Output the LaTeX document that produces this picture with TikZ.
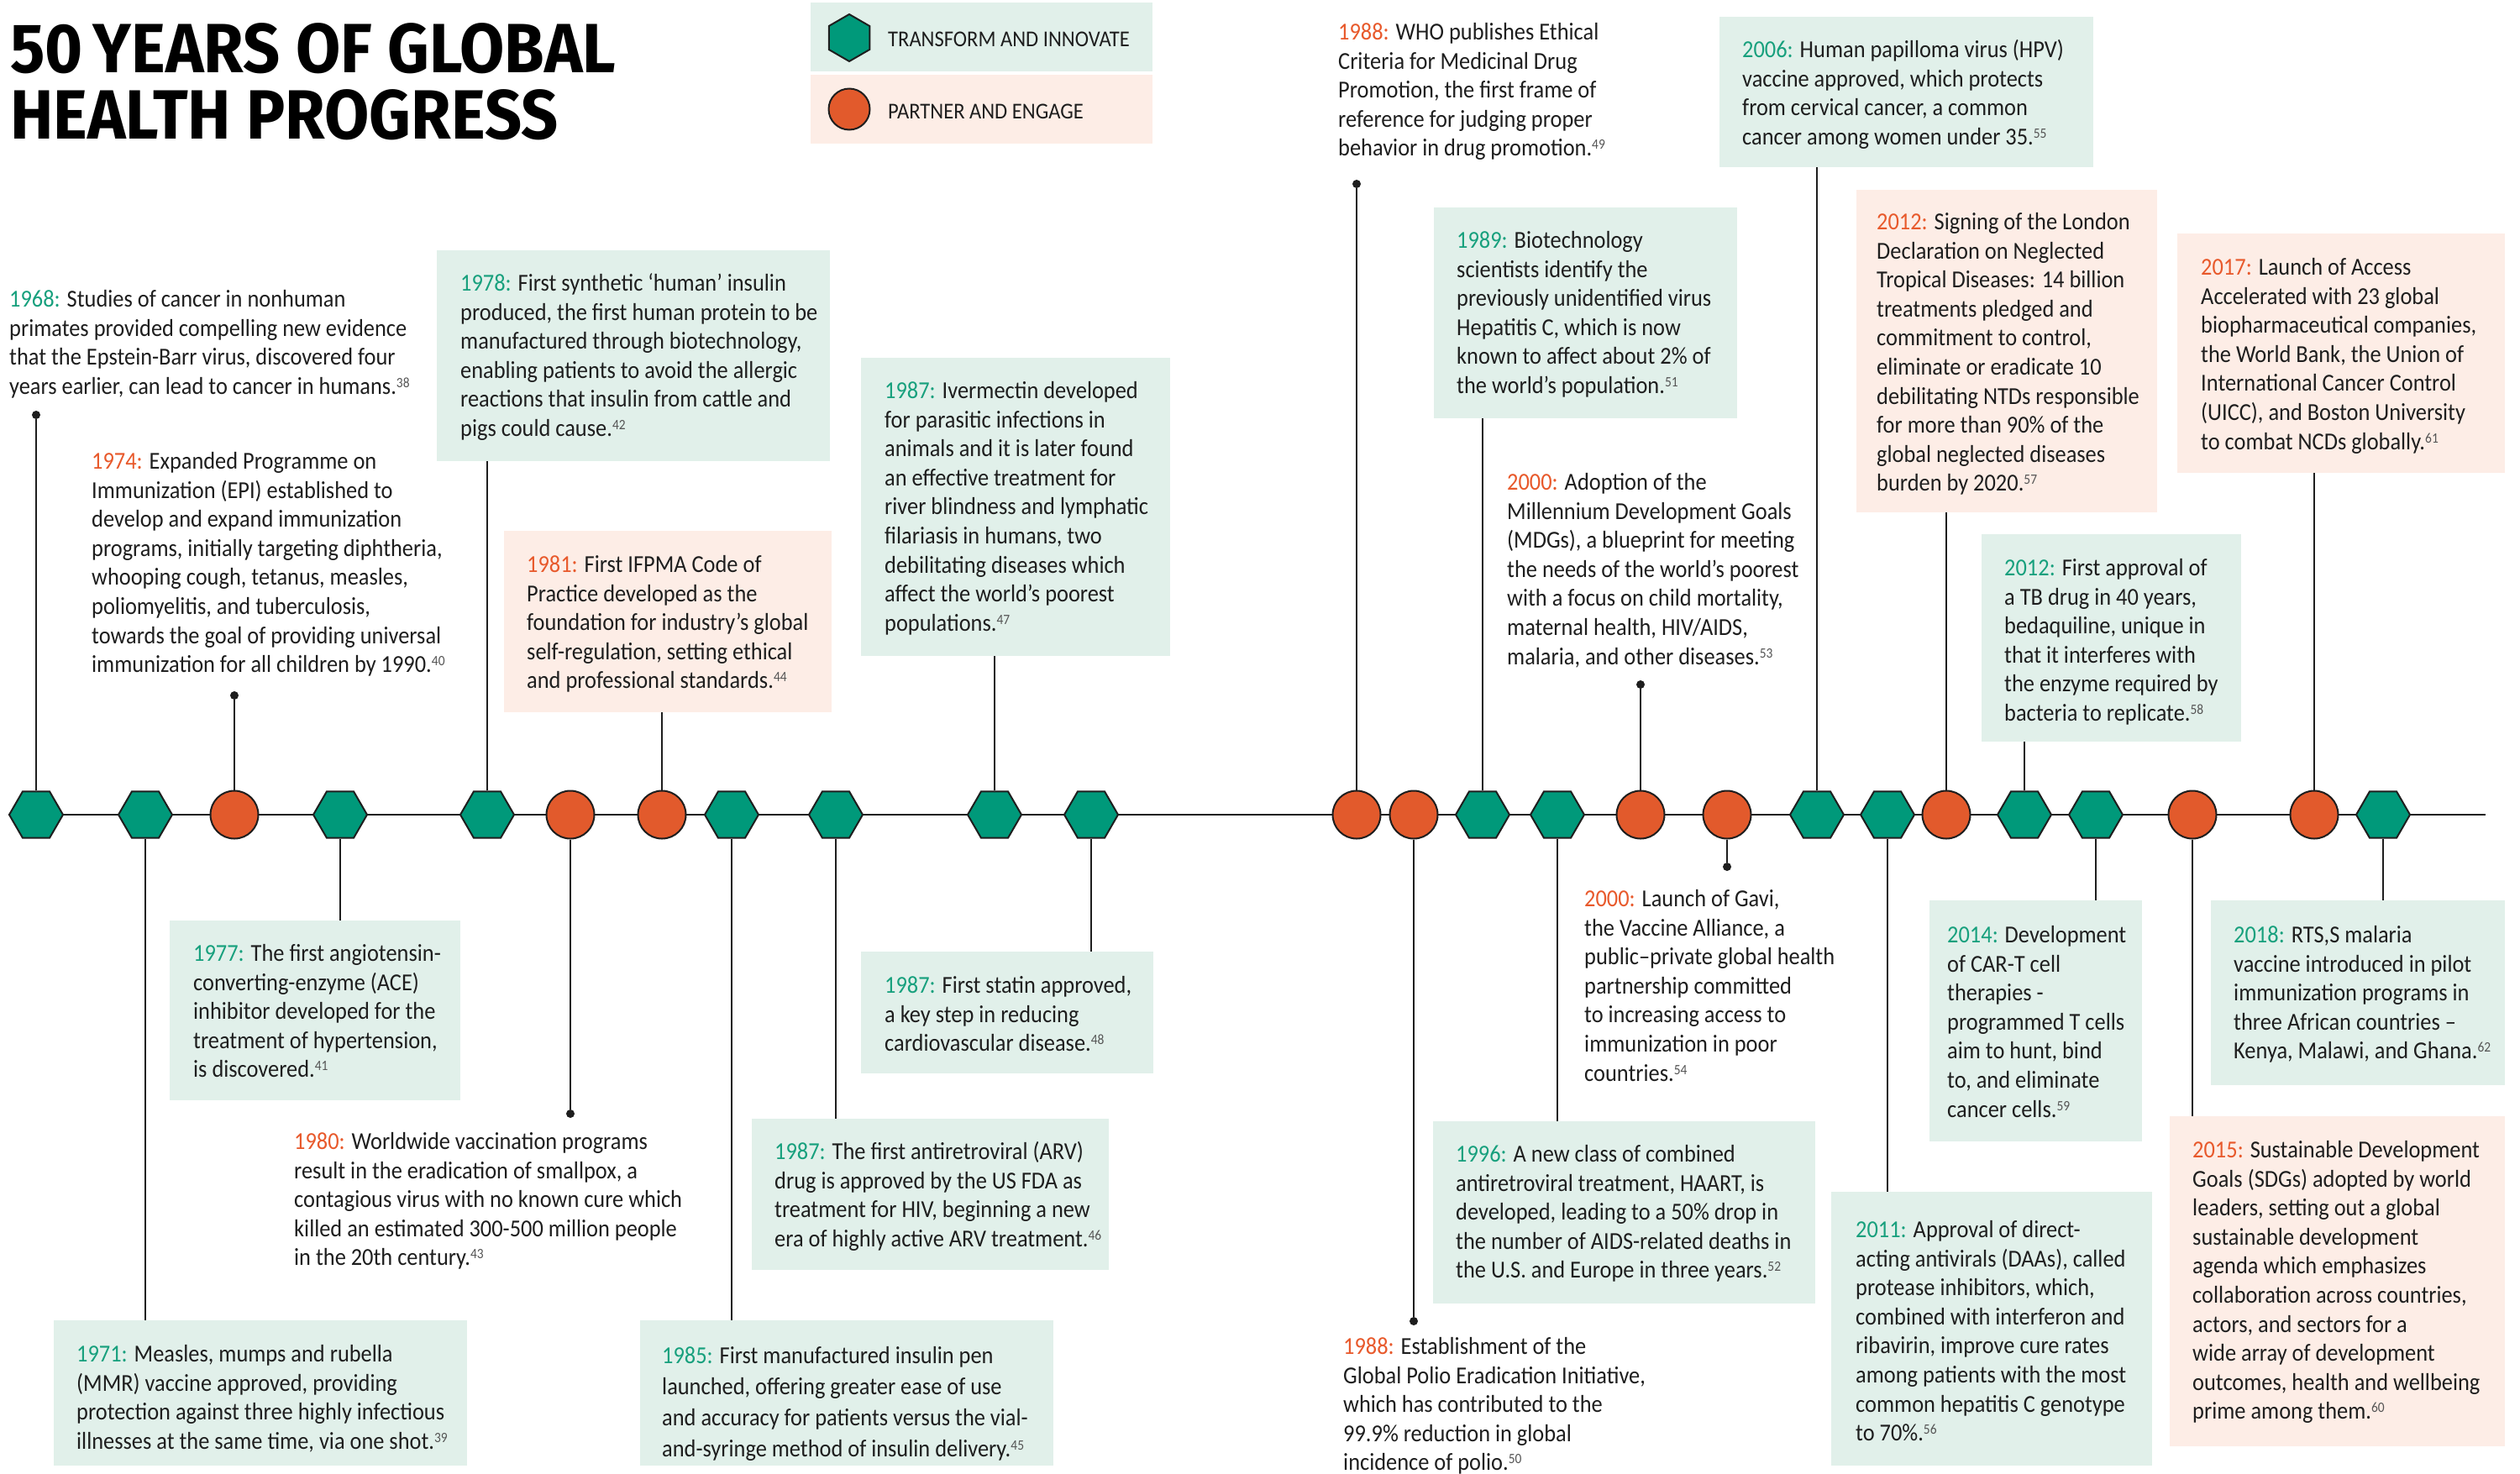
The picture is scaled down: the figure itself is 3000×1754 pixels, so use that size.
\documentclass[tikz,border=0pt]{standalone}
\usepackage{fontspec}
\setmainfont{Carlito}[FakeStretch=0.91]
\newfontfamily\titlefont{Fira Sans}[FakeStretch=0.93]
\usetikzlibrary{shapes.geometric,fit}
\definecolor{tgreen}{HTML}{00997A}
\definecolor{torange}{HTML}{E25A2C}
\definecolor{ygreen}{HTML}{17A07D}
\definecolor{yorange}{HTML}{E8592B}
\definecolor{boxg}{HTML}{E1F0EA}
\definecolor{boxp}{HTML}{FDEDE6}
\definecolor{ink}{HTML}{1E1E1E}
\definecolor{fngray}{HTML}{555555}
\newcommand\yg[1]{\textcolor{ygreen}{#1}}
\newcommand\yo[1]{\textcolor{yorange}{#1}}
\newcommand\fn[1]{\raisebox{8pt}{\fontsize{17}{17}\selectfont\textcolor{fngray}{#1}}}
\tikzset{
 txt/.style={anchor=north west, inner sep=0pt, align=left, text=ink, font=\fontsize{29}{34.6}\selectfont},
 gbox/.style={fill=boxg, draw=none, inner sep=0pt, outer sep=0pt},
 pbox/.style={fill=boxp, draw=none, inner sep=0pt, outer sep=0pt},
 hexm/.style={regular polygon, regular polygon sides=6, minimum size=64pt, inner sep=0pt, fill=tgreen, draw=ink, line width=2pt},
 circm/.style={circle, minimum size=57pt, inner sep=0pt, fill=torange, draw=ink, line width=2pt},
 dotm/.style={circle, fill=ink, minimum size=10pt, inner sep=0pt},
 stem/.style={draw=ink, line width=2pt},
 tline/.style={draw=ink, line width=2.5pt},
 legtxt/.style={anchor=base west, inner sep=0pt, text=ink, font=\fontsize{27}{27}\selectfont},
 titletxt/.style={anchor=base west, inner sep=0pt, text=black, font=\titlefont\bfseries\fontsize{83}{83}\selectfont},
}
\begin{document}
\begin{tikzpicture}[x=1pt,y=-1pt]
\useasboundingbox (0,0) rectangle (3000,1754);
\fill[white] (0,0) rectangle (3000,1754);

% title
\node[titletxt] (title1) at (12,86) {50\hspace{12pt}YEARS OF GLOBAL};
\node[titletxt] (title2) at (12,165) {HEALTH PROGRESS};

% legend
\node[gbox, fit={(965,3) (1372,85)}] (legg) {};
\node[pbox, fit={(965,89) (1372,171)}] (legp) {};
\node[hexm, minimum size=56pt, shape border rotate=30] (leghex) at (1011,45) {};
\node[circm, minimum size=49pt] (legcirc) at (1011,130) {};
\node[legtxt] (legt1) at (1057,55) {TRANSFORM AND INNOVATE};
\node[legtxt] (legt2) at (1057,141) {PARTNER AND ENGAGE};

% boxes
\node[gbox, fit={(520,298) (988,549)}] (b1978) {};
\node[pbox, fit={(600,632) (990,848)}] (b1981) {};
\node[gbox, fit={(1025,426) (1393,781)}] (bIver) {};
\node[gbox, fit={(202,1096) (548,1310)}] (b1977) {};
\node[gbox, fit={(64,1572) (556,1745)}] (b1971) {};
\node[gbox, fit={(895,1332) (1320,1512)}] (bARV) {};
\node[gbox, fit={(762,1572) (1254,1745)}] (b1985) {};
\node[gbox, fit={(1025,1133) (1373,1278)}] (bStatin) {};
\node[gbox, fit={(1707,247) (2068,498)}] (b1989) {};
\node[gbox, fit={(2047,20) (2492,199)}] (b2006) {};
\node[pbox, fit={(2210,226) (2568,610)}] (bLondon) {};
\node[pbox, fit={(2592,278) (2982,563)}] (b2017) {};
\node[gbox, fit={(2359,636) (2668,883)}] (bTB) {};
\node[gbox, fit={(1706,1335) (2161,1552)}] (b1996) {};
\node[gbox, fit={(2180,1419) (2562,1745)}] (b2011) {};
\node[gbox, fit={(2297,1072) (2550,1359)}] (b2014) {};
\node[gbox, fit={(2632,1072) (2982,1292)}] (b2018) {};
\node[pbox, fit={(2583,1329) (2982,1722)}] (b2015) {};

% texts
\node[txt] (t1968) at (11,341) {\strut\yg{1968:} Studies of cancer in nonhuman\\primates provided compelling new evidence\\that the Epstein-Barr virus, discovered four\\years earlier, can lead to cancer in humans.\fn{38}};
\node[txt] (t1978) at (548,322) {\strut\yg{1978:} First synthetic ‘human’ insulin\\produced, the first human protein to be\\manufactured through biotechnology,\\enabling patients to avoid the allergic\\reactions that insulin from cattle and\\pigs could cause.\fn{42}};
\node[txt] (t1974) at (109,534) {\strut\yo{1974:} Expanded Programme on\\Immunization (EPI) established to\\develop and expand immunization\\programs, initially targeting diphtheria,\\whooping cough, tetanus, measles,\\poliomyelitis, and tuberculosis,\\towards the goal of providing universal\\immunization for all children by 1990.\fn{40}};
\node[txt] (t1981) at (627,657) {\strut\yo{1981:} First IFPMA Code of\\Practice developed as the\\foundation for industry’s global\\self-regulation, setting ethical\\and professional standards.\fn{44}};
\node[txt] (tIver) at (1053,450) {\strut\yg{1987:} Ivermectin developed\\for parasitic infections in\\animals and it is later found\\an effective treatment for\\river blindness and lymphatic\\filariasis in humans, two\\debilitating diseases which\\affect the world’s poorest\\populations.\fn{47}};
\node[txt] (t1977) at (230,1120) {\strut\yg{1977:} The first angiotensin-\\converting-enzyme (ACE)\\inhibitor developed for the\\treatment of hypertension,\\is discovered.\fn{41}};
\node[txt] (t1980) at (350,1344) {\strut\yo{1980:} Worldwide vaccination programs\\result in the eradication of smallpox, a\\contagious virus with no known cure which\\killed an estimated 300-500 million people\\in the 20th century.\fn{43}};
\node[txt] (t1971) at (91,1597) {\strut\yg{1971:} Measles, mumps and rubella\\(MMR) vaccine approved, providing\\protection against three highly infectious\\illnesses at the same time, via one shot.\fn{39}};
\node[txt] (tARV) at (922,1356) {\strut\yg{1987:} The first antiretroviral (ARV)\\drug is approved by the US FDA as\\treatment for HIV, beginning a new\\era of highly active ARV treatment.\fn{46}};
\node[txt, font=\fontsize{29}{37}\selectfont] (t1985) at (788,1597) {\strut\yg{1985:} First manufactured insulin pen\\launched, offering greater ease of use\\and accuracy for patients versus the vial-\\and-syringe method of insulin delivery.\fn{45}};
\node[txt] (tStatin) at (1053,1158) {\strut\yg{1987:} First statin approved,\\a key step in reducing\\cardiovascular disease.\fn{48}};
\node[txt] (tWHO) at (1593,23) {\strut\yo{1988:} WHO publishes Ethical\\Criteria for Medicinal Drug\\Promotion, the first frame of\\reference for judging proper\\behavior in drug promotion.\fn{49}};
\node[txt] (t1989) at (1734,271) {\strut\yg{1989:} Biotechnology\\scientists identify the\\previously unidentified virus\\Hepatitis C, which is now\\known to affect about 2\% of\\the world’s population.\fn{51}};
\node[txt] (tMDG) at (1794,559) {\strut\yo{2000:} Adoption of the\\Millennium Development Goals\\(MDGs), a blueprint for meeting\\the needs of the world’s poorest\\with a focus on child mortality,\\maternal health, HIV/AIDS,\\malaria, and other diseases.\fn{53}};
\node[txt] (t2006) at (2074,44) {\strut\yg{2006:} Human papilloma virus (HPV)\\vaccine approved, which protects\\from cervical cancer, a common\\cancer among women under 35.\fn{55}};
\node[txt] (tLondon) at (2234,249) {\strut\yo{2012:} Signing of the London\\Declaration on Neglected\\Tropical Diseases: 14 billion\\treatments pledged and\\commitment to control,\\eliminate or eradicate 10\\debilitating NTDs responsible\\for more than 90\% of the\\global neglected diseases\\burden by 2020.\fn{57}};
\node[txt] (t2017) at (2620,303) {\strut\yo{2017:} Launch of Access\\Accelerated with 23 global\\biopharmaceutical companies,\\the World Bank, the Union of\\International Cancer Control\\(UICC), and Boston University\\to combat NCDs globally.\fn{61}};
\node[txt] (tTB) at (2386,661) {\strut\yg{2012:} First approval of\\a TB drug in 40 years,\\bedaquiline, unique in\\that it interferes with\\the enzyme required by\\bacteria to replicate.\fn{58}};
\node[txt] (tGavi) at (1886,1055) {\strut\yo{2000:} Launch of Gavi,\\the Vaccine Alliance, a\\public–private global health\\partnership committed\\to increasing access to\\immunization in poor\\countries.\fn{54}};
\node[txt] (t1996) at (1733,1359) {\strut\yg{1996:} A new class of combined\\antiretroviral treatment, HAART, is\\developed, leading to a 50\% drop in\\the number of AIDS-related deaths in\\the U.S. and Europe in three years.\fn{52}};
\node[txt] (tPolio) at (1599,1588) {\strut\yo{1988:} Establishment of the\\Global Polio Eradication Initiative,\\which has contributed to the\\99.9\% reduction in global\\incidence of polio.\fn{50}};
\node[txt] (t2011) at (2209,1449) {\strut\yg{2011:} Approval of direct-\\acting antivirals (DAAs), called\\protease inhibitors, which,\\combined with interferon and\\ribavirin, improve cure rates\\among patients with the most\\common hepatitis C genotype\\to 70\%.\fn{56}};
\node[txt] (t2014) at (2318,1098) {\strut\yg{2014:} Development\\of CAR-T cell\\therapies -\\programmed T cells\\aim to hunt, bind\\to, and eliminate\\cancer cells.\fn{59}};
\node[txt] (t2018) at (2659,1098) {\strut\yg{2018:} RTS,S malaria\\vaccine introduced in pilot\\immunization programs in\\three African countries –\\Kenya, Malawi, and Ghana.\fn{62}};
\node[txt] (t2015) at (2610,1354) {\strut\yo{2015:} Sustainable Development\\Goals (SDGs) adopted by world\\leaders, setting out a global\\sustainable development\\agenda which emphasizes\\collaboration across countries,\\actors, and sectors for a\\wide array of development\\outcomes, health and wellbeing\\prime among them.\fn{60}};

% timeline
\coordinate (tl0) at (10,970);
\coordinate (tl1) at (2959,970);
\draw[tline] (tl0) -- (tl1);

% markers
\node[hexm] (m1) at (43,970) {};
\node[hexm] (m2) at (173,970) {};
\node[circm] (m3) at (279,970) {};
\node[hexm] (m4) at (405,970) {};
\node[hexm] (m5) at (580,970) {};
\node[circm] (m6) at (679,970) {};
\node[circm] (m7) at (788,970) {};
\node[hexm] (m8) at (871,970) {};
\node[hexm] (m9) at (995,970) {};
\node[hexm] (m10) at (1184,970) {};
\node[hexm] (m11) at (1299,970) {};
\node[circm] (m12) at (1615,970) {};
\node[circm] (m13) at (1683,970) {};
\node[hexm] (m14) at (1765,970) {};
\node[hexm] (m15) at (1854,970) {};
\node[circm] (m16) at (1953,970) {};
\node[circm] (m17) at (2056,970) {};
\node[hexm] (m18) at (2163,970) {};
\node[hexm] (m19) at (2247,970) {};
\node[circm] (m20) at (2317,970) {};
\node[hexm] (m21) at (2410,970) {};
\node[hexm] (m22) at (2495,970) {};
\node[circm] (m23) at (2610,970) {};
\node[circm] (m24) at (2755,970) {};
\node[hexm] (m25) at (2837,970) {};

% dots
\node[dotm] (d1) at (43,494) {};
\node[dotm] (d3) at (279,828) {};
\node[dotm] (d6) at (679,1326) {};
\node[dotm] (d12) at (1615,219) {};
\node[dotm] (d13) at (1683,1573) {};
\node[dotm] (d16) at (1953,815) {};
\node[dotm] (d17) at (2056,1032) {};

% stems
\draw[stem] (m1) -- (d1);
\draw[stem] (m2) -- (m2 |- b1971.north);
\draw[stem] (m3) -- (d3);
\draw[stem] (m4) -- (m4 |- b1977.north);
\draw[stem] (m5) -- (m5 |- b1978.south);
\draw[stem] (m6) -- (d6);
\draw[stem] (m7) -- (m7 |- b1981.south);
\draw[stem] (m8) -- (m8 |- b1985.north);
\draw[stem] (m9) -- (m9 |- bARV.north);
\draw[stem] (m10) -- (m10 |- bIver.south);
\draw[stem] (m11) -- (m11 |- bStatin.north);
\draw[stem] (m12) -- (d12);
\draw[stem] (m13) -- (d13);
\draw[stem] (m14) -- (m14 |- b1989.south);
\draw[stem] (m15) -- (m15 |- b1996.north);
\draw[stem] (m16) -- (d16);
\draw[stem] (m17) -- (d17);
\draw[stem] (m18) -- (m18 |- b2006.south);
\draw[stem] (m19) -- (m19 |- b2011.north);
\draw[stem] (m20) -- (m20 |- bLondon.south);
\draw[stem] (m21) -- (m21 |- bTB.south);
\draw[stem] (m22) -- (m22 |- b2014.north);
\draw[stem] (m23) -- (m23 |- b2015.north);
\draw[stem] (m24) -- (m24 |- b2017.south);
\draw[stem] (m25) -- (m25 |- b2018.north);
\end{tikzpicture}
\end{document}
